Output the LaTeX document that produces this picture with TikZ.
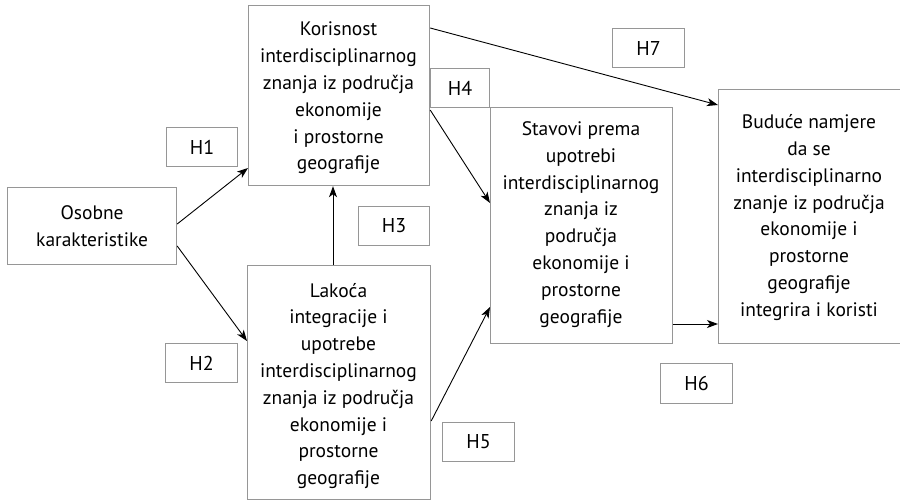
\documentclass[tikz,border=0pt]{standalone}
\usepackage{fontspec}
\setmainfont{PT Sans}
\usetikzlibrary{arrows.meta,calc}
\definecolor{boxgray}{RGB}{150,150,150}
\begin{document}
\begin{tikzpicture}[x=1pt,y=-1pt,
  bigbox/.style={draw=boxgray,line width=1.2pt,anchor=north west,inner sep=0pt,
    align=center,font=\fontsize{19.5}{26.8}\selectfont},
  boxtext/.style={align=center,inner sep=0pt,font=\fontsize{19.5}{26.8}\selectfont},
  hbox/.style={draw=boxgray,line width=1.2pt,anchor=north west,inner sep=0pt,
    font=\fontsize{20}{23}\selectfont},
  arr/.style={draw=black,line width=0.9pt,-{Stealth[length=11pt,width=8pt,inset=3pt]}}]
\useasboundingbox (0,0) rectangle (900,501);
% main boxes
\node[bigbox,minimum width=169pt,minimum height=77pt] (O) at (7,187) {Osobne\\karakteristike};
\node[bigbox,minimum width=181pt,minimum height=180pt] (K) at (248,5) {};
\node[boxtext] (Kt) at (338.5,98) {Korisnost\\interdisciplinarnog\\znanja iz područja\\ekonomije\\i prostorne\\geografije};
\node[bigbox,minimum width=183pt,minimum height=234pt] (L) at (247,265) {};
\node[boxtext] (Lt) at (338.5,386) {Lakoća\\integracije i\\upotrebe\\interdisciplinarnog\\znanja iz područja\\ekonomije i\\prostorne\\geografije};
\node[bigbox,minimum width=182pt,minimum height=236pt] (S) at (490,107) {};
\node[boxtext] (St) at (581,224.5) {Stavovi prema\\upotrebi\\interdisciplinarnog\\znanja iz\\područja\\ekonomije i\\prostorne\\geografije};
\node[bigbox,minimum width=184pt,minimum height=254pt] (B) at (718,89) {};
\node[boxtext] (Bt) at (809,217.5) {Buduće namjere\\da se\\interdisciplinarno\\znanje iz područja\\ekonomije i\\prostorne\\geografije\\integrira i koristi};
% hypothesis labels
\node[hbox,minimum width=71pt,minimum height=39pt] (H1) at (166,127) {H1};
\node[hbox,minimum width=72pt,minimum height=39pt] (H2) at (165,343) {H2};
\node[hbox,minimum width=71pt,minimum height=39pt] (H3) at (358,206) {H3};
\node[hbox,minimum width=59pt,minimum height=39pt] (H4) at (430,68) {H4};
\node[hbox,minimum width=72pt,minimum height=39pt] (H5) at (442,422) {H5};
\node[hbox,minimum width=72pt,minimum height=40pt] (H6) at (660,363) {H6};
\node[hbox,minimum width=72pt,minimum height=39pt] (H7) at (612,28) {H7};
% arrows
\draw[arr] (O.east |- 0,224) -- (K.west |- 0,168);
\draw[arr] (O.east |- 0,246) -- (L.west |- 0,341);
\draw[arr] (L.north -| 333,0) -- (K.south -| 333,0);
\draw[arr] (K.east |- 0,110) -- (S.west |- 0,203);
\draw[arr] (L.east |- 0,421) -- (S.west |- 0,307);
\draw[arr] (S.east |- 0,324) -- (B.west |- 0,324);
\draw[arr] (K.east |- 0,28) -- (B.west |- 0,105);
\end{tikzpicture}
\end{document}
